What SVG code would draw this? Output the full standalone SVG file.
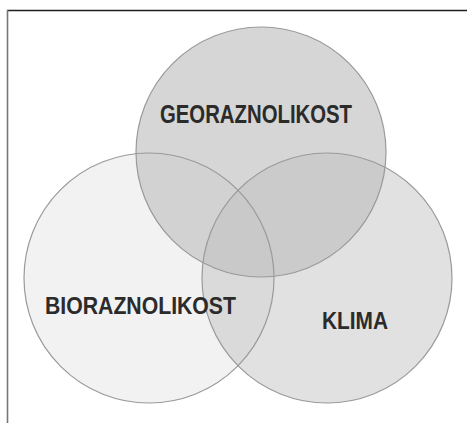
<svg xmlns="http://www.w3.org/2000/svg" width="467" height="423" viewBox="0 0 467 423">
<style>
.o{fill:none;stroke:#9a9a9a;stroke-width:1.2}
.t{font-family:"Liberation Sans",Arial,sans-serif;font-weight:bold;fill:#2b2b2b}
</style>
<rect x="0" y="0" width="467" height="423" fill="#ffffff"/>
<g id="frame">
<line x1="7" y1="10.5" x2="467" y2="10.5" stroke="#1e1e1e" stroke-width="1.3"/>
<line x1="7.5" y1="10" x2="7.5" y2="423" stroke="#777777" stroke-width="1.6"/>
</g>
<g id="bioraznolikost">
<circle cx="149" cy="278" r="125" fill="#f2f2f2"/>
</g>
<g id="georaznolikost">
<circle cx="261" cy="152" r="125" fill="#c0c0c0" fill-opacity="0.65"/>
</g>
<g id="klima">
<circle cx="327" cy="278" r="125" fill="#c0c0c0" fill-opacity="0.47"/>
</g>
<g id="outlines">
<circle class="o" cx="149" cy="278" r="125"/>
<circle class="o" cx="261" cy="152" r="125"/>
<circle class="o" cx="327" cy="278" r="125"/>
</g>
<g id="labels">
<text class="t" x="160" y="123" font-size="25" textLength="192" lengthAdjust="spacingAndGlyphs">GEORAZNOLIKOST</text>
<text class="t" x="45" y="314" font-size="23" textLength="191" lengthAdjust="spacingAndGlyphs">BIORAZNOLIKOST</text>
<text class="t" x="322" y="329" font-size="23" textLength="66" lengthAdjust="spacingAndGlyphs">KLIMA</text>
</g>
</svg>
